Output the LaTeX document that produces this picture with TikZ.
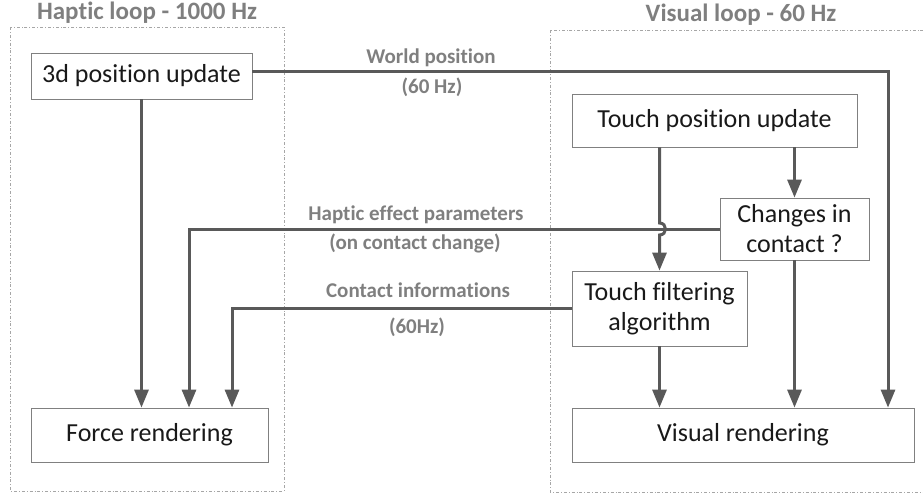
\documentclass[tikz,border=0pt]{standalone}
\usepackage{fontspec}
\setmainfont{Carlito}[Ligatures=NoCommon]
\usetikzlibrary{arrows.meta}
\definecolor{linea}{HTML}{595959}
\definecolor{grigio}{HTML}{7F7F7F}
\definecolor{cornice}{HTML}{A6A6A6}
\definecolor{bordo}{HTML}{808080}

\begin{document}
\begin{tikzpicture}[x=1pt, y=-1pt, >={Triangle[length=18pt,width=14pt]},
    main/.style = {draw=bordo, line width=0.8pt, inner sep=0pt, align=center, text=black!90, font=\fontsize{26}{30}\selectfont},
    freccia/.style = {draw=linea, line width=3pt},
    etichetta/.style = {text=grigio, font=\fontsize{21}{24}\selectfont\bfseries},
    titolo/.style = {text=grigio, font=\fontsize{25}{28}\selectfont\bfseries},
    riquadro/.style = {draw=cornice, line width=0.8pt, dash dot}]
    \useasboundingbox (0,0) rectangle (923,493);

    % Disegna i riquadri dei due cicli
    \draw[riquadro] (10,27) rectangle (284,491);
    \draw[riquadro] (550,30) rectangle (926,492);
    \node[titolo] (th) at (147,13) {Haptic loop - 1000 Hz};
    \node[titolo] (tv) at (741,15) {Visual loop - 60 Hz};

    % Disegna i nodi
    \node[main, minimum width=221pt, minimum height=46pt] (pos) at (141.5,76) {3d position update};
    \node[main, minimum width=285pt, minimum height=53pt] (touch) at (714.5,120.5) {Touch position update};
    \node[main, minimum width=149pt, minimum height=62pt] (changes) at (794.5,229) {Changes in\\contact ?};
    \node[main, minimum width=175pt, minimum height=75pt] (filter) at (659.5,308.5) {Touch filtering\\algorithm};
    \node[main, minimum width=237pt, minimum height=54pt] (force) at (149.5,435) {Force rendering};
    \node[main, minimum width=342pt, minimum height=54pt] (visual) at (743,435) {Visual rendering};

    \coordinate (wp) at (888,71);
    \coordinate (hp) at (189,229);
    \coordinate (ci) at (232,308.5);
    \coordinate (incrocio) at (filter.north |- changes.west);

    % Disegna le frecce
    \draw[freccia,->] (pos.east |- wp) -- (wp) -- (wp |- visual.north);
    \draw[freccia,->] (pos.south) -- (pos.south |- force.north);
    \draw[freccia,->] (touch.south -| changes.north) -- (changes.north);
    \draw[freccia,->] (touch.south -| filter.north) -- ([yshift=6pt]incrocio) .. controls +(8,0) and +(8,0) .. ([yshift=-6pt]incrocio) -- (filter.north);
    \draw[freccia,->] (changes.west) -- (hp) -- (hp |- force.north);
    \draw[freccia,->] (filter.west) -- (ci) -- (ci |- force.north);
    \draw[freccia,->] (changes.south) -- (changes.south |- visual.north);
    \draw[freccia,->] (filter.south) -- (filter.south |- visual.north);

    % Etichette
    \node[etichetta] (wpos) at (431,58) {World position};
    \node[etichetta] (wfreq) at (432,87) {(60 Hz)};
    \node[etichetta] (hep) at (416,215) {Haptic effect parameters};
    \node[etichetta] (hepc) at (415,243) {(on contact change)};
    \node[etichetta] (cinf) at (418,290) {Contact informations};
    \node[etichetta] (cinff) at (417,327) {(60Hz)};

\end{tikzpicture}
\end{document}
